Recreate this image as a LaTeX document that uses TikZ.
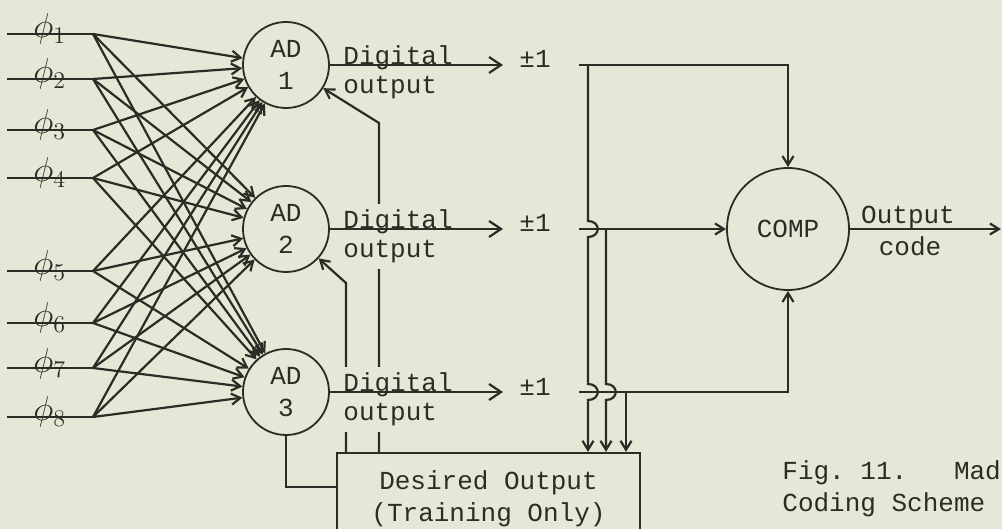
\documentclass[tikz,border=0pt]{standalone}
\usepackage{fontspec}
\setmonofont{Liberation Mono}
\usetikzlibrary{arrows.meta}

\definecolor{paper}{HTML}{E6E7D6}
\definecolor{ink}{HTML}{2C2C26}
\newcommand{\tymono}{\ttfamily\fontsize{13}{16}\selectfont}

\tikzset{
  wire/.style={draw=ink, line width=1.1pt},
  feed/.style={wire, -{Straight Barb[length=4.5pt,width=5.5pt]}},
  sig/.style={wire, -{Straight Barb[length=6pt,width=8pt]}},
  adunit/.style={circle, draw=ink, line width=0.9pt, minimum size=43pt, inner sep=0pt, align=center, font=\tymono, text=ink},
  tag/.style={font=\tymono, text=ink, inner sep=1pt},
}

\begin{document}
\begin{tikzpicture}[x=0.5pt,y=-0.5pt]
\useasboundingbox (0,0) rectangle (1002,529);
\fill[paper] (0,0) rectangle (1002,529);

\node[adunit] (ad1) at (286,65) {AD\\1};
\node[adunit] (ad2) at (286,229) {AD\\2};
\node[adunit] (ad3) at (286,392) {AD\\3};
\node[adunit, minimum size=61pt] (comp) at (788,229) {COMP};
\node[draw=ink, line width=1.1pt, minimum width=151.5pt, minimum height=46pt, align=center, font=\tymono, text=ink] (desired) at (488.5,499) {Desired Output\\(Training Only)};

% inputs fanned out to every unit
\foreach \y [count=\i] in {34,79,130,178,271,323,368,417} {
  \coordinate (in\i) at (7,\y);
  \coordinate (fan\i) at (93,\y);
  \draw[wire, line width=1.3pt] (in\i) -- (fan\i);
  \node[anchor=base west, text=ink, inner sep=0pt, font=\fontsize{17}{17}\selectfont] (phi\i) at (33,\y+4) {$\phi_{\i}$};
  \foreach \a in {1,2,3}
    \draw[feed] (fan\i) -- (ad\a);
}

% training
\coordinate (fb1) at (379,123);
\coordinate (fb2) at (346,283);
\coordinate (tr) at (286,487);
\draw[feed] (desired.north -| fb1) -- (fb1) -- (ad1);
\draw[feed] (desired.north -| fb2) -- (fb2) -- (ad2);
\draw[wire] (ad3.south) -- (tr) -- (tr -| desired.west);

\foreach \a/\y/\f in {1/65/none,2/229/paper,3/392/paper} {
  \node[tag, fill=\f, inner ysep=3pt, anchor=base west] (dig\a) at (341,\y) {Digital};
  \node[tag, fill=\f, inner ysep=3pt, anchor=base west] (out\a) at (341,\y+29) {output};
  \coordinate (pm\a) at (503,\y);
  \draw[sig] (ad\a) -- (pm\a);
  \node[tag, anchor=base] (val\a) at (535,\y+3) {±1};
  \coordinate (r\a) at (579,\y);
}

\draw[feed] (r2) -- (comp);
\draw[feed] (r1) -| (comp.north);
\draw[feed] (r3) -| (comp.south);

\coordinate (v1) at (588,65);
\coordinate (v2) at (606,229);
\coordinate (v3) at (626,392);
\draw[feed] (v1) -- (588,221) .. controls +(13,0) and +(13,0) .. (588,237) -- (588,384) .. controls +(13,0) and +(13,0) .. (588,400) -- (desired.north -| v1);
\draw[feed] (v2) -- (606,384) .. controls +(13,0) and +(13,0) .. (606,400) -- (desired.north -| v2);
\draw[feed] (v3) -- (desired.north -| v3);

\coordinate (oc) at (1001,229);
\draw[feed] (comp) -- (oc);
\node[tag, anchor=base] (outc) at (908,224) {Output};
\node[tag, anchor=base] (code) at (910,256) {code};

\node[tag, anchor=base west] (cap1) at (780,480) {Fig.~11.~~~Mad};
\node[tag, anchor=base west] (cap2) at (780,511) {Coding Scheme};
\end{tikzpicture}
\end{document}
